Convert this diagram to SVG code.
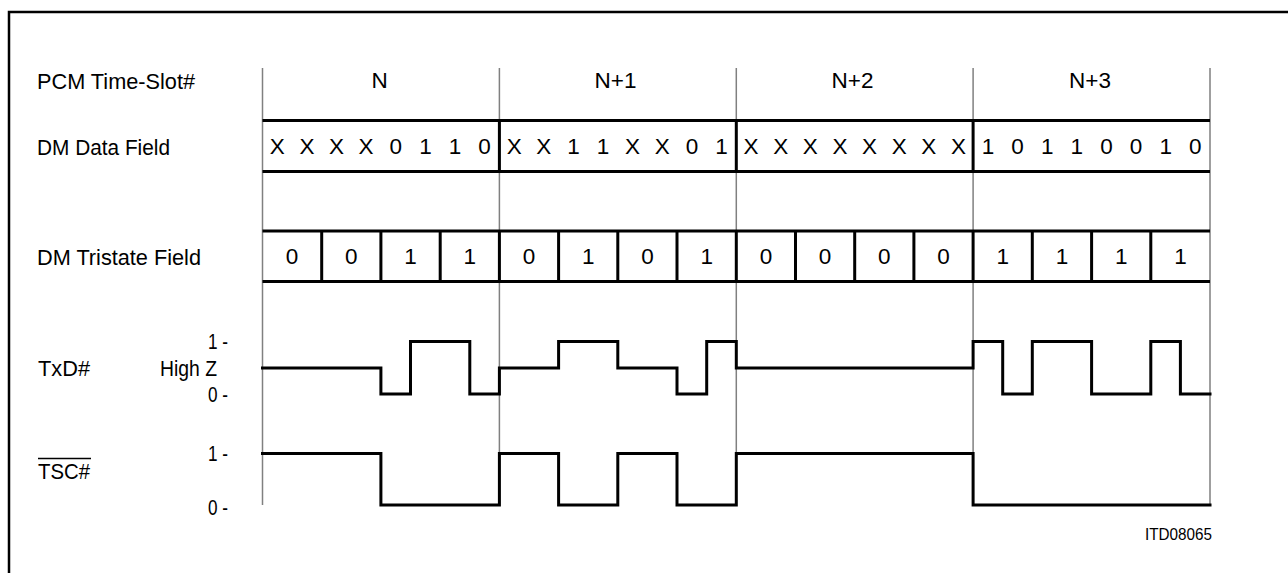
<svg xmlns="http://www.w3.org/2000/svg" width="1288" height="573" viewBox="0 0 1288 573">
<style>
text{font-family:"Liberation Sans",Arial,Helvetica,sans-serif;font-size:22.5px;fill:#000}
.c{text-anchor:middle}
.r{text-anchor:end}
.grid{stroke:#808080;stroke-width:1.5;fill:none}
.thick{stroke:#000;stroke-width:3;fill:none}
.wave{stroke:#000;stroke-width:3;fill:none;stroke-linejoin:miter;stroke-linecap:square}
.small{font-size:17px}
</style>
<rect width="1288" height="573" fill="#fff"/>
<path d="M9,573 V12 H1290" fill="none" stroke="#000" stroke-width="2.5"/>

<g id="gridlines" class="connectors">
<path class="grid" d="M262.5,68 V505 M499.4,68 V505 M736.3,68 V505 M973.1,68 V505 M1210,68 V505"/>
</g>

<g id="row-labels">
<text x="37" y="89" textLength="158" lengthAdjust="spacingAndGlyphs">PCM Time-Slot#</text>
<text x="37" y="154.5" textLength="133" lengthAdjust="spacingAndGlyphs">DM Data Field</text>
<text x="37" y="264.5" textLength="164" lengthAdjust="spacingAndGlyphs">DM Tristate Field</text>
<text x="38" y="376" textLength="52" lengthAdjust="spacingAndGlyphs">TxD#</text>
<text x="160" y="376" textLength="57" lengthAdjust="spacingAndGlyphs">High Z</text>
<text x="208" y="349" textLength="20" lengthAdjust="spacingAndGlyphs">1 -</text>
<text x="208" y="402" textLength="20" lengthAdjust="spacingAndGlyphs">0 -</text>
<text x="38" y="478.5" textLength="52" lengthAdjust="spacingAndGlyphs">TSC#</text>
<line x1="38" y1="458.5" x2="91" y2="458.5" stroke="#000" stroke-width="1.5"/>
<text x="208" y="461" textLength="20" lengthAdjust="spacingAndGlyphs">1 -</text>
<text x="208" y="514.5" textLength="20" lengthAdjust="spacingAndGlyphs">0 -</text>
</g>

<g id="time-slots">
<text x="379.5" y="88" class="c">N</text>
<text x="615.5" y="88" class="c">N+1</text>
<text x="852.5" y="88" class="c">N+2</text>
<text x="1090" y="88" class="c">N+3</text>
</g>

<g id="dm-data-field">
<path class="thick" d="M262.5,120.5 H1210 M262.5,171.5 H1210 M499.4,120.5 V171.5 M736.3,120.5 V171.5 M973.1,120.5 V171.5"/>
<text class="c" y="154" x="277.3 292.1 306.9 321.7 336.5 351.3 366.1 380.9 395.7 410.5 425.4 440.2 455 469.8 484.6">X X X X 0 1 1 0</text>
<text class="c" y="154" x="514.2 529 543.8 558.6 573.4 588.2 603 617.8 632.6 647.4 662.3 677 691.9 706.7 721.5">X X 1 1 X X 0 1</text>
<text class="c" y="154" x="751.1 765.9 780.7 795.5 810.3 825.1 839.9 854.7 869.5 884.3 899.2 913.9 928.8 943.6 958.4">X X X X X X X X</text>
<text class="c" y="154" x="988 1002.7 1017.6 1032.3 1047.2 1061.9 1076.8 1091.6 1106.4 1121.2 1136.1 1150.8 1165.7 1180.4 1195.3">1 0 1 1 0 0 1 0</text>
</g>

<g id="dm-tristate-field">
<path class="thick" d="M262.5,231 H1210 M262.5,281.5 H1210 M321.7,231 V281.5 M380.9,231 V281.5 M440.2,231 V281.5 M499.4,231 V281.5 M558.6,231 V281.5 M617.8,231 V281.5 M677,231 V281.5 M736.3,231 V281.5 M795.5,231 V281.5 M854.7,231 V281.5 M913.9,231 V281.5 M973.1,231 V281.5 M1032.3,231 V281.5 M1091.6,231 V281.5 M1150.8,231 V281.5"/>
<text class="c" y="264" x="292.1">0</text>
<text class="c" y="264" x="351.3">0</text>
<text class="c" y="264" x="410.5">1</text>
<text class="c" y="264" x="469.8">1</text>
<text class="c" y="264" x="529">0</text>
<text class="c" y="264" x="588.2">1</text>
<text class="c" y="264" x="647.4">0</text>
<text class="c" y="264" x="706.7">1</text>
<text class="c" y="264" x="765.9">0</text>
<text class="c" y="264" x="825.1">0</text>
<text class="c" y="264" x="884.3">0</text>
<text class="c" y="264" x="943.6">0</text>
<text class="c" y="264" x="1002.7">1</text>
<text class="c" y="264" x="1061.9">1</text>
<text class="c" y="264" x="1121.2">1</text>
<text class="c" y="264" x="1180.4">1</text>
</g>

<g id="txd-waveform">
<path class="wave" d="M262.5,368 H380.9 V394 H410.5 V341.5 H469.8 V394 H499.4 V368 H558.6 V341.5 H617.8 V368 H677 V394 H706.7 V341.5 H736.3 V368 H973.1 V341.5 H1002.7 V394 H1032.3 V341.5 H1091.6 V394 H1150.8 V341.5 H1180.4 V394 H1210"/>
</g>

<g id="tsc-waveform">
<path class="wave" d="M262.5,453.5 H380.9 V505 H499.4 V453.5 H558.6 V505 H617.8 V453.5 H677 V505 H736.3 V453.5 H973.1 V505 H1210"/>
</g>

<g id="figure-id">
<text x="1145" y="539.5" class="small" textLength="67" lengthAdjust="spacingAndGlyphs">ITD08065</text>
</g>
</svg>
